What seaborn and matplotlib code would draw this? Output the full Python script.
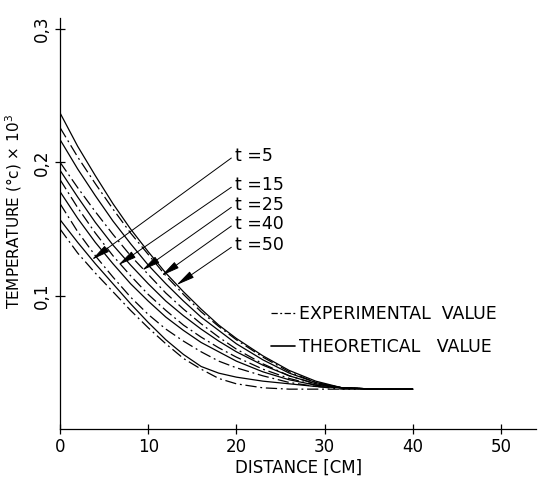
import matplotlib
matplotlib.use("Agg")
from matplotlib import pyplot as plt
from matplotlib.lines import Line2D
import pandas as pd
import seaborn as sns

# distance grid (cm) and temperature readings (x10^3 degC)
distance = [0, 2, 4, 6, 8, 10, 12, 14, 16, 18, 20, 23, 26, 29, 32, 36, 40]

theo_t5 = [0.157, 0.140, 0.124, 0.109, 0.094, 0.080, 0.067, 0.056, 0.047, 0.042, 0.039,
           0.036, 0.034, 0.032, 0.031, 0.030, 0.030]
theo_t15 = [0.178, 0.158, 0.140, 0.124, 0.109, 0.096, 0.084, 0.074, 0.065, 0.058, 0.051,
            0.043, 0.037, 0.033, 0.031, 0.030, 0.030]
theo_t25 = [0.194, 0.174, 0.155, 0.138, 0.123, 0.109, 0.096, 0.085, 0.075, 0.066, 0.058,
            0.048, 0.040, 0.034, 0.031, 0.030, 0.030]
theo_t40 = [0.217, 0.195, 0.175, 0.156, 0.139, 0.123, 0.109, 0.096, 0.084, 0.074, 0.064,
            0.052, 0.042, 0.035, 0.031, 0.030, 0.030]
theo_t50 = [0.237, 0.212, 0.190, 0.169, 0.150, 0.133, 0.117, 0.103, 0.090, 0.078, 0.068,
            0.055, 0.044, 0.036, 0.031, 0.030, 0.030]

exp_t5 = [0.150, 0.132, 0.117, 0.103, 0.089, 0.076, 0.064, 0.053, 0.045, 0.038, 0.034,
          0.031, 0.030, 0.030, 0.030, 0.030, 0.030]
exp_t15 = [0.169, 0.148, 0.130, 0.114, 0.099, 0.086, 0.075, 0.066, 0.058, 0.051, 0.046,
           0.040, 0.035, 0.032, 0.030, 0.030, 0.030]
exp_t25 = [0.187, 0.166, 0.147, 0.130, 0.115, 0.101, 0.089, 0.078, 0.069, 0.061, 0.054,
           0.045, 0.038, 0.033, 0.031, 0.030, 0.030]
exp_t40 = [0.200, 0.181, 0.163, 0.146, 0.130, 0.116, 0.102, 0.090, 0.079, 0.069, 0.060,
           0.049, 0.040, 0.034, 0.031, 0.030, 0.030]
exp_t50 = [0.226, 0.204, 0.184, 0.165, 0.147, 0.131, 0.115, 0.101, 0.088, 0.077, 0.067,
           0.054, 0.043, 0.035, 0.031, 0.030, 0.030]

times = ["5", "15", "25", "40", "50"]
# where each t label arrow points (distance, temperature)
arrow_x = [3.6, 6.6, 9.3, 11.5, 13.2]
arrow_y = [0.127, 0.123, 0.119, 0.115, 0.108]
label_y = [0.205, 0.183, 0.168, 0.154, 0.138]

x_ticks = [0, 10, 20, 30, 40, 50]
y_ticks = [0.1, 0.2, 0.3]
y_ticklabels = ["0,1", "0,2", "0,3"]

theo = dict(zip(times, [theo_t5, theo_t15, theo_t25, theo_t40, theo_t50]))
expv = dict(zip(times, [exp_t5, exp_t15, exp_t25, exp_t40, exp_t50]))

rows = []
for t in times:
    for d, v in zip(distance, theo[t]):
        rows.append({"dist": d, "temp": v, "t": t, "kind": "theo"})
    for d, v in zip(distance, expv[t]):
        rows.append({"dist": d, "temp": v, "t": t, "kind": "exp"})
df = pd.DataFrame(rows)

sns.set_style("ticks")
plt.rcParams["font.family"] = ["DejaVu Sans"]
plt.rcParams.update({"text.color": "black", "axes.labelcolor": "black",
                     "xtick.color": "black", "ytick.color": "black",
                     "axes.edgecolor": "black"})

fig = plt.figure(figsize=(5.41, 4.79), dpi=100)
ax = fig.add_axes([0.111, 0.104, 0.88, 0.858])

for t in times:
    sub = df[(df.t == t) & (df.kind == "theo")]
    sns.lineplot(data=sub, x="dist", y="temp", ax=ax, color="black", lw=0.9)
    sub = df[(df.t == t) & (df.kind == "exp")]
    sns.lineplot(data=sub, x="dist", y="temp", ax=ax, color="black", lw=0.9,
                 dashes=False, linestyle=(0, (9, 3, 1.5, 3)))

ax.set_xlim(0, 54)
ax.set_ylim(0, 0.308)
ax.set_xticks(x_ticks)
ax.set_yticks(y_ticks)
ax.set_yticklabels(y_ticklabels, rotation=90, va="center")
sns.despine(ax=ax)
for s in ["left", "bottom"]:
    ax.spines[s].set_linewidth(0.9)
ax.tick_params(direction="inout", length=7, width=0.9, labelsize=12, pad=3)

ax.set_xlabel("DISTANCE [CM]", fontsize=12, labelpad=2)
ax.set_ylabel("TEMPERATURE (°c) × 10$^3$", fontsize=11)
ax.yaxis.set_label_coords(-0.075, 0.53)

for t, ax_, ay_, ly in zip(times, arrow_x, arrow_y, label_y):
    ax.annotate("t =" + t, xy=(ax_, ay_), xytext=(19.8, ly), fontsize=12.5,
                ha="left", va="center",
                arrowprops=dict(arrowstyle="-|>,head_length=0.9,head_width=0.18",
                                color="black", lw=0.7, relpos=(0, 0.5),
                                shrinkA=0, shrinkB=0))

handles = [Line2D([], [], color="black", lw=0.9, linestyle=(0, (5, 2, 1.5, 2))),
           Line2D([], [], color="black", lw=1.2)]
ax.legend(handles, ["EXPERIMENTAL  VALUE", "THEORETICAL   VALUE"],
          loc="upper left", bbox_to_anchor=(0.41, 0.34), frameon=False,
          fontsize=12.5, handlelength=1.4, handletextpad=0.2, labelspacing=0.85)

fig.savefig("out.png", dpi=100)
